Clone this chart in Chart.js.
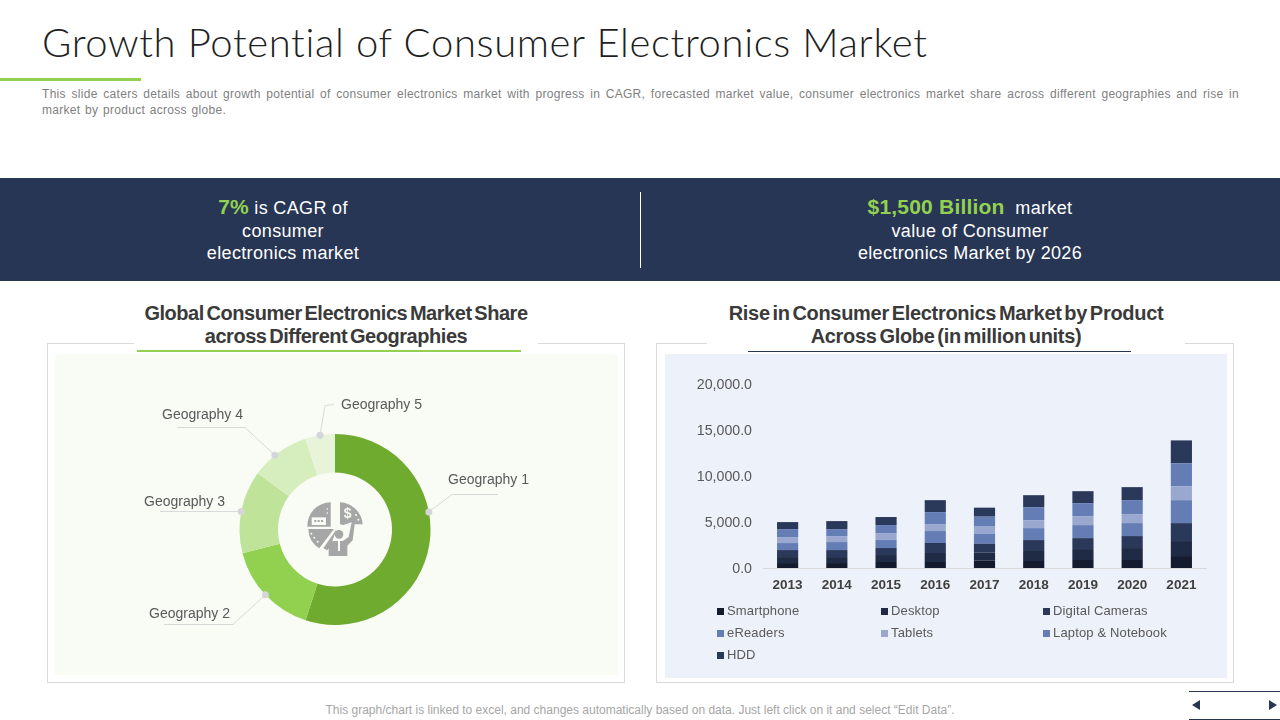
<!DOCTYPE html>
<html>
<head>
<meta charset="utf-8">
<script src="https://cdn.jsdelivr.net/npm/chart.js@4/dist/chart.umd.min.js"></script>
<style>
  html, body { margin: 0; padding: 0; background: #fff; }
  body { width: 1280px; height: 720px; position: relative; overflow: hidden; font-family: "Liberation Sans", Arial, sans-serif; }
  .abs { position: absolute; }
  #title { left: 42px; top: 18px; font-family: Lato, sans-serif; font-weight: 300; font-size: 40px; line-height: 48px; color: #1f1f1f; letter-spacing: 0.64px; white-space: nowrap; }
  #accent { left: 0; top: 78px; width: 141px; height: 3px; background: #92d050; }
  #desc { left: 42px; top: 86px; width: 1197px; font-size: 12px; line-height: 16px; color: #7f7f7f; letter-spacing: 0.3px; word-spacing: 1px; }
  #desc div:first-child { text-align: justify; text-align-last: justify; }
  #banner { left: 0; top: 178px; width: 1280px; height: 103px; background: #283655; }
  #divider { left: 640px; top: 192px; width: 1px; height: 76px; background: #fff; }
  .stat { top: 196px; color: #fff; font-size: 18px; line-height: 22.5px; text-align: center; white-space: nowrap; letter-spacing: 0.35px; }
  .stat b { color: #92d050; font-size: 21px; letter-spacing: 0.2px; }
  .panel { top: 343px; height: 338px; border: 1px solid #d9d9d9; box-sizing: content-box; }
  .heading { top: 302px; background: #fff; height: 48px; color: #3a3a3a; font-size: 20px; font-weight: bold; line-height: 23px; text-align: center; word-spacing: -2.5px; white-space: nowrap; }
  canvas { position: absolute; display: block; }
  #legend div { position: absolute; font-size: 13px; line-height: 16px; color: #595959; letter-spacing: 0.15px; white-space: nowrap; padding-left: 10px; }
  #legend i { position: absolute; left: 0; top: 5px; width: 7px; height: 7px; }
  #footer { left: 0; width: 1280px; top: 703px; text-align: center; font-size: 12px; line-height: 14px; color: #a6a6a6; }
</style>
</head>
<body>
<div class="abs" id="title">Growth Potential of Consumer Electronics Market</div>
<div class="abs" id="accent"></div>
<div class="abs" id="desc"><div>This slide caters details about growth potential of consumer electronics market with progress in CAGR, forecasted market value, consumer electronics market share across different geographies and rise in</div><div>market by product across globe.</div></div>

<div class="abs" id="banner"></div>
<div class="abs" id="divider"></div>
<div class="abs stat" style="left:83px;width:400px"><b>7%</b> is CAGR of<br>consumer<br>electronics market</div>
<div class="abs stat" style="left:720px;width:500px"><b>$1,500 Billion</b>&nbsp; market<br>value of Consumer<br>electronics Market by 2026</div>

<div class="abs panel" style="left:47px;width:576px"></div>
<div class="abs panel" style="left:656px;width:576px"></div>
<div class="abs" style="left:55px;top:354px;width:563px;height:321px;background:#f9fbf5"></div>
<div class="abs" style="left:665px;top:354px;width:562px;height:324px;background:#edf1f9"></div>

<div class="abs heading" style="left:134px;width:404px;letter-spacing:-0.45px">Global Consumer Electronics Market Share<br>across Different Geographies</div>
<div class="abs heading" style="left:707px;width:478px;letter-spacing:-0.3px">Rise in Consumer Electronics Market by Product<br>Across Globe (in million units)</div>
<div class="abs" style="left:137px;top:350px;width:384px;height:2px;background:#92d050"></div>
<div class="abs" style="left:748px;top:351px;width:383px;height:1px;background:#283655"></div>

<canvas id="shareChart" width="563" height="321" style="left:55px;top:354px;width:563px;height:321px"></canvas>
<canvas id="productChart" width="562" height="324" style="left:665px;top:354px;width:562px;height:324px"></canvas>

<svg class="abs" style="left:290px;top:485px" width="90" height="85" viewBox="0 0 270 255">
  <g fill="#a6a6a6">
    <path d="M122 52 A70 70 0 0 0 52 125 L122 125 Z"/>
    <path d="M150 52 A70 70 0 0 1 218 118 L186 118 L184 112 L160 120 L150 118 Z"/>
    <path d="M55 132 L132 132 L88 190 A70 70 0 0 1 55 132 Z"/>
    <path d="M140 132 L100 190 L112 196 L122 182 Z"/>
    <circle cx="147" cy="148" r="13"/>
    <path d="M116 213 L116 182 Q118 168 134 168 L158 168 L176 156 L184 116 L194 118 L188 166 L172 182 L172 213 Z"/>
  </g>
  <g fill="#f9fbf5">
    <rect x="65" y="97" width="43" height="23"/>
    <rect x="144" y="168" width="6" height="30"/>
    <circle cx="112" cy="72" r="2.5"/><circle cx="112" cy="84" r="2.5"/>
    <circle cx="198" cy="90" r="3"/><circle cx="205" cy="104" r="3"/>
    <circle cx="64" cy="146" r="3"/><circle cx="73" cy="158" r="3"/><circle cx="83" cy="170" r="3"/>
  </g>
  <g fill="#a6a6a6"><rect x="73" y="105" width="6" height="6"/><rect x="83" y="105" width="6" height="6"/><rect x="93" y="105" width="6" height="6"/></g>
  <text x="173" y="100" font-family="Liberation Sans, sans-serif" font-weight="bold" font-size="42" fill="#f9fbf5" text-anchor="middle">$</text>
</svg>

<div class="abs" id="legend" style="left:0;top:0"></div>

<div class="abs" id="footer">This graph/chart is linked to excel, and changes automatically based on data. Just left click on it and select “Edit Data”.</div>

<div class="abs" style="left:1189px;top:691px;width:91px;height:1px;background:#283655"></div>
<div class="abs" style="left:1189px;top:719px;width:91px;height:1px;background:#283655"></div>
<svg class="abs" style="left:1189px;top:698px" width="91" height="14"><path d="M3 7 L11 2 L11 12 Z M88 7 L80 2 L80 12 Z" fill="#283655"/></svg>

<script>
const geographies = ['Geography 1', 'Geography 2', 'Geography 3', 'Geography 4', 'Geography 5']
const geographyShare = [55, 16, 14, 10, 5]
const geographyColors = ['#6fab2f', '#92d050', '#bfe399', '#d6edbd', '#e8f4da']

const years = ['2013', '2014', '2015', '2016', '2017', '2018', '2019', '2020', '2021']
const yTicks = [0, 5000, 10000, 15000, 20000]

const smartphone = [540, 540, 650, 650, 800, 760, 870, 870, 1300]
const desktop = [650, 650, 760, 980, 870, 1085, 1190, 1300, 1630]
const digitalCameras = [760, 760, 760, 1085, 980, 1190, 1190, 1300, 1950]
const eReaders = [760, 870, 870, 1300, 1085, 1300, 1410, 1410, 2490]
const tablets = [650, 650, 760, 760, 760, 870, 980, 980, 1520]
const laptopNotebook = [870, 760, 870, 1300, 1085, 1410, 1410, 1520, 2490]
const hdd = [760, 870, 870, 1300, 980, 1300, 1300, 1410, 2490]

const products = [
    { label: 'Smartphone', data: smartphone, backgroundColor: '#141b2e' },
    { label: 'Desktop', data: desktop, backgroundColor: '#1f2a44' },
    { label: 'Digital Cameras', data: digitalCameras, backgroundColor: '#2a3859' },
    { label: 'eReaders', data: eReaders, backgroundColor: '#647db5' },
    { label: 'Tablets', data: tablets, backgroundColor: '#9aa8d0' },
    { label: 'Laptop & Notebook', data: laptopNotebook, backgroundColor: '#647db5' },
    { label: 'HDD', data: hdd, backgroundColor: '#2a3859' }
]

// leader lines, relative to the doughnut centre. angle in degrees from the top
const leaders = [
    { angle: 79.4, elbow: [117, -35], end: [163, -35], text: [113, -49] },
    { angle: 226.8, elbow: [-102, 95], end: [-171, 95], text: [-186, 85] },
    { angle: 280.8, elbow: [-130, -18], end: [-175, -18], text: [-191, -27] },
    { angle: 321, elbow: [-90, -102], end: [-158, -102], text: [-173, -114] },
    { angle: 351, elbow: [-10, -124], end: [-1, -125], text: [6, -124] }
]

const leaderPlugin = {
    id: 'leaderLabels',
    afterDatasetsDraw(chart) {
        const { ctx } = chart
        const arc = chart.getDatasetMeta(0).data[0]
        ctx.save()
        ctx.font = '14px "Liberation Sans", Arial, sans-serif'
        ctx.textBaseline = 'middle'
        leaders.forEach((l, i) => {
            const a = l.angle * Math.PI / 180
            const dotX = arc.x + arc.outerRadius * Math.sin(a)
            const dotY = arc.y - arc.outerRadius * Math.cos(a)
            ctx.strokeStyle = '#d9d9d9'
            ctx.lineWidth = 1
            ctx.beginPath()
            ctx.moveTo(dotX, dotY)
            ctx.lineTo(arc.x + l.elbow[0], arc.y + l.elbow[1])
            ctx.lineTo(arc.x + l.end[0], arc.y + l.end[1])
            ctx.stroke()
            ctx.fillStyle = '#d5d5dc'
            ctx.beginPath()
            ctx.arc(dotX, dotY, 3.5, 0, Math.PI * 2)
            ctx.fill()
            ctx.fillStyle = '#595959'
            ctx.fillText(geographies[i], arc.x + l.text[0], arc.y + l.text[1])
        })
        ctx.restore()
    }
}

new Chart(document.getElementById('shareChart'), {
    type: 'doughnut',
    data: {
        labels: geographies,
        datasets: [{ data: geographyShare, backgroundColor: geographyColors, borderWidth: 0 }]
    },
    options: {
        responsive: false,
        animation: false,
        radius: 95.5,
        cutout: '59.7%',
        layout: { padding: { top: 30, right: 3 } },
        plugins: { legend: { display: false }, tooltip: { enabled: false } }
    },
    plugins: [leaderPlugin]
})

new Chart(document.getElementById('productChart'), {
    type: 'bar',
    data: {
        labels: years,
        datasets: products.map(p => ({ ...p, barPercentage: 0.43, categoryPercentage: 1 }))
    },
    options: {
        responsive: false,
        animation: false,
        layout: { padding: { top: 30, right: 21 } },
        plugins: { legend: { display: false }, tooltip: { enabled: false } },
        scales: {
            x: {
                stacked: true,
                afterFit: axis => { axis.height = 110 },
                grid: { display: false, drawTicks: false },
                border: { color: '#d9d9d9' },
                ticks: {
                    color: '#404040',
                    padding: 9,
                    maxRotation: 0,
                    font: { family: '"Liberation Sans", Arial, sans-serif', size: 13.5, weight: 'bold' }
                }
            },
            y: {
                stacked: true,
                min: 0,
                max: 20000,
                afterFit: axis => { axis.width = 98 },
                afterBuildTicks: axis => { axis.ticks = yTicks.map(value => ({ value })) },
                grid: { display: false, drawTicks: false },
                border: { display: false },
                ticks: {
                    color: '#595959',
                    padding: 11,
                    labelOffset: 1,
                    font: { family: '"Liberation Sans", Arial, sans-serif', size: 14.2 },
                    callback: v => v.toLocaleString('en-US', { minimumFractionDigits: 1, maximumFractionDigits: 1 })
                }
            }
        }
    }
})

// legend sits in a three column grid, which the built in one cannot do
const legendColumns = [717, 881, 1043]
const legendRows = [602.5, 624.5, 646.5]
const legendBox = document.getElementById('legend')
products.forEach((p, i) => {
    const item = document.createElement('div')
    item.style.left = legendColumns[i % 3] + 'px'
    item.style.top = legendRows[Math.floor(i / 3)] + 'px'
    item.textContent = p.label
    const swatch = document.createElement('i')
    swatch.style.background = p.backgroundColor
    item.appendChild(swatch)
    legendBox.appendChild(item)
})
</script>
</body>
</html>
